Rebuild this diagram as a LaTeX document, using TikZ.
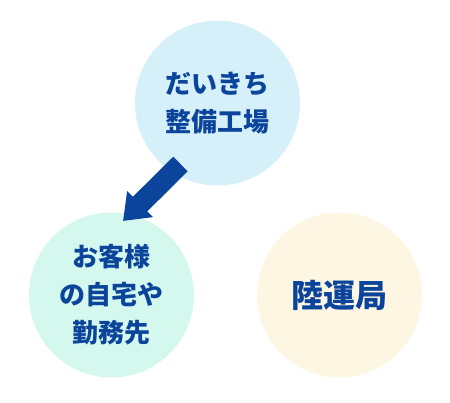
\documentclass[tikz,border=0pt]{standalone}
\usepackage{fontspec}
\newfontfamily\cjk{Noto Sans CJK JP}
\usetikzlibrary{arrows.meta}
\definecolor{txtblue}{RGB}{11,68,155}
\definecolor{cblue}{RGB}{214,240,250}
\definecolor{cmint}{RGB}{213,248,238}
\definecolor{ccream}{RGB}{252,246,227}
\tikzset{
  bubble/.style={circle, inner sep=0pt, minimum size=165pt, text=txtblue,
    align=center, font=\cjk\bfseries\fontsize{26pt}{38pt}\selectfont},
  bigarrow/.style={draw=txtblue, line width=20.5pt, line cap=butt,
    -{Triangle[length=24pt,width=35pt]}}
}
\begin{document}
\begin{tikzpicture}[x=1pt,y=-1pt]
\useasboundingbox (0,0) rectangle (450,402);
\node[bubble, fill=cblue] (top) at (217.5,103) {だいきち\\整備工場};
\node[bubble, fill=cmint] (cust) at (111.5,295) {お客様\\の自宅や\\勤務先};
\node[bubble, fill=ccream, font=\cjk\bfseries\fontsize{32pt}{38pt}\selectfont] (riku) at (339.5,295) {陸運局};
\coordinate (as) at (180.5,164);
\coordinate (at) at (123,221);
\draw[bigarrow] (as) -- (at);
\end{tikzpicture}
\end{document}
